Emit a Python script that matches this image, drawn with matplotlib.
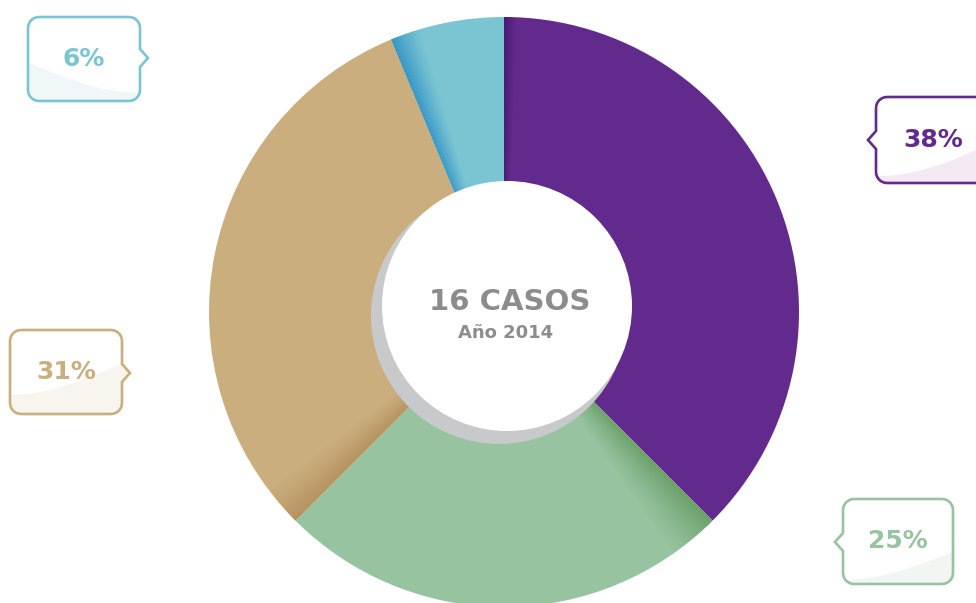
import matplotlib.pyplot as plt
import numpy as np
from matplotlib.patches import Wedge, Circle, Polygon

# DONNEES
casos = [6, 4, 5, 1]
etiquetas = ["38%", "25%", "31%", "6%"]
colores = ["#632A8E", "#97C3A0", "#CBAE7E", "#7BC5D3"]
sombras = ["#3E186A", "#5C9456", "#A47A45", "#2A8EC4"]
tintes = ["#F3EAF3", "#F1F6F2", "#F8F4EE", "#EFF7F9"]
titulo = "16 CASOS"
subtitulo = "Año 2014"

W, H = 976, 603
def Y(y):
    return H - y

fig = plt.figure(figsize=(W / 100, H / 100), dpi=100)
ax = fig.add_axes([0, 0, 1, 1])

# DONA
cx, cy, R = 504, Y(312), 295
wedges, _ = ax.pie(casos, colors=colores, startangle=90, counterclock=False,
                   center=(cx, cy), radius=R, frame=True,
                   wedgeprops=dict(linewidth=0))
ax.set_xlim(0, W)
ax.set_ylim(0, H)
ax.set_aspect("equal")
ax.axis("off")

# degradado en el borde inicial de cada porcion
anchos = [2.5, 10, 8, 6]
alfas = [0.9, 0.75, 0.55, 0.9]
for w, g, a, c in zip(wedges, anchos, alfas, sombras):
    t0 = w.theta2  # borde inicial (sentido horario)
    n = 20
    for j in range(n):
        ax.add_patch(Wedge((cx, cy), R, t0 - g * (j + 1) / n, t0 - g * j / n,
                           color=c, alpha=a * (1 - j / n) ** 1.3, lw=0))

# CIRCULO CENTRAL
ax.add_patch(Circle((499, Y(316)), 128, color="#C8C9CB", lw=0))
ax.add_patch(Circle((507, Y(306)), 125, color="white", lw=0))
ax.text(510, Y(302), titulo, ha="center", va="center", fontsize=21,
        fontweight="bold", color="#8C8C8C")
ax.text(506, Y(333), subtitulo, ha="center", va="center", fontsize=13,
        fontweight="bold", color="#8C8C8C")


# CAJAS
def caja(x0, y0, x1, y1, lado, yp, r=11, p=8, hp=9):
    pts = []
    def arco(xc, yc, a0, a1):
        for t in np.linspace(np.radians(a0), np.radians(a1), 8):
            pts.append((xc + r * np.cos(t), yc + r * np.sin(t)))
    arco(x0 + r, y0 + r, 180, 270)
    arco(x1 - r, y0 + r, 270, 360)
    if lado == "der":
        pts += [(x1, yp - hp), (x1 + p, yp), (x1, yp + hp)]
    arco(x1 - r, y1 - r, 0, 90)
    arco(x0 + r, y1 - r, 90, 180)
    if lado == "izq":
        pts += [(x0, yp + hp), (x0 - p, yp), (x0, yp - hp)]
    return [(x, Y(y)) for x, y in pts]

# x0, y0, x1, y1, lado del pico, y del pico, curva izq, curva der, x texto
cajas = [
    (876, 97, 1010, 183, "izq", 140, 0.92, 0.42, 933),
    (843, 499, 953, 584, "izq", 542, 0.95, 0.62, 898),
    (10, 330, 122, 414, "der", 373, 0.77, 0.40, 66),
    (28, 17, 140, 101, "der", 58, 0.54, 0.90, 84),
]

for (x0, y0, x1, y1, lado, yp, fa, fb, tx), lab, col, tin in zip(cajas, etiquetas, colores, tintes):
    verts = caja(x0, y0, x1, y1, lado, yp)
    ax.add_patch(Polygon(verts, closed=True, facecolor="white", lw=0, zorder=3))
    # franja clara inferior
    xs = np.linspace(x0, x1, 40)
    s = (xs - x0) / (x1 - x0)
    ya = y0 + fa * (y1 - y0)
    yb = y0 + fb * (y1 - y0)
    if ya < yb:
        yc = ya + (yb - ya) * np.sin(s * np.pi / 2)
    else:
        yc = ya + (yb - ya) * (1 - np.cos(s * np.pi / 2))
    poly = [(x, Y(y)) for x, y in zip(xs, yc)] + [(x1 + 10, Y(yc[-1])), (x1 + 10, Y(y1 + 10)),
                                                   (x0 - 10, Y(y1 + 10)), (x0 - 10, Y(yc[0]))]
    franja = Polygon(poly, closed=True, facecolor=tin, lw=0, zorder=3.1)
    ax.add_patch(franja)
    franja.set_clip_path(Polygon(verts, closed=True, transform=ax.transData))
    ax.add_patch(Polygon(verts, closed=True, facecolor="none", edgecolor=col, lw=1.9, zorder=3.2))
    ax.text(tx, Y((y0 + y1) / 2), lab, ha="center", va="center", fontsize=18,
            fontweight="bold", color=col, zorder=4)

fig.savefig("out.png", dpi=100)
